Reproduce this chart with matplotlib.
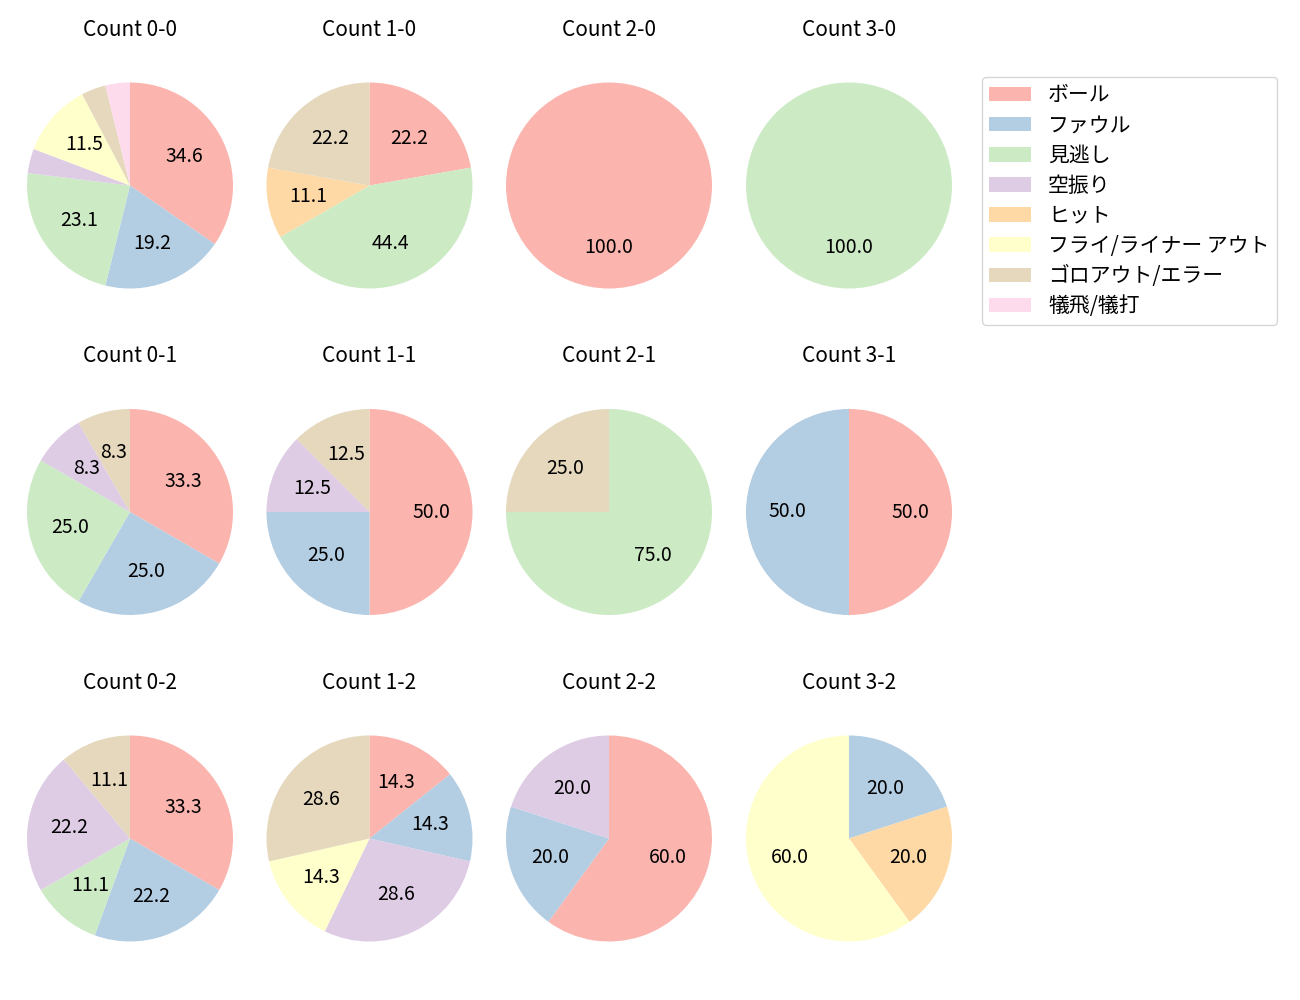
import matplotlib
matplotlib.use("Agg")
import matplotlib.pyplot as plt
from matplotlib.patches import Patch

plt.rcParams['font.family'] = ['Noto Sans CJK JP', 'DejaVu Sans']

categories = ["ボール", "ファウル", "見逃し", "空振り", "ヒット",
              "フライ/ライナー アウト", "ゴロアウト/エラー", "犠飛/犠打"]

counts = {
    "0-0": [9, 5, 6, 1, 0, 3, 1, 1],
    "1-0": [2, 0, 4, 0, 1, 0, 2, 0],
    "2-0": [1, 0, 0, 0, 0, 0, 0, 0],
    "3-0": [0, 0, 1, 0, 0, 0, 0, 0],
    "0-1": [4, 3, 3, 1, 0, 0, 1, 0],
    "1-1": [4, 2, 0, 1, 0, 0, 1, 0],
    "2-1": [0, 0, 3, 0, 0, 0, 1, 0],
    "3-1": [1, 1, 0, 0, 0, 0, 0, 0],
    "0-2": [3, 2, 1, 2, 0, 0, 1, 0],
    "1-2": [1, 1, 0, 2, 0, 1, 2, 0],
    "2-2": [3, 1, 0, 1, 0, 0, 0, 0],
    "3-2": [0, 1, 0, 0, 1, 3, 0, 0],
}
grid = [["0-0", "1-0", "2-0", "3-0"],
        ["0-1", "1-1", "2-1", "3-1"],
        ["0-2", "1-2", "2-2", "3-2"]]

colors = plt.get_cmap('Pastel1').colors[:8]

W, H = 1300, 1000
fig = plt.figure(figsize=(13, 10), dpi=100)
cxs = [130, 369.5, 609, 849]
cys = [185.5, 512, 838.5]
size = 2.5 * 103.0
for r in range(3):
    for c in range(4):
        ax = fig.add_axes([(cxs[c] - size / 2) / W, 1 - (cys[r] + size / 2) / H,
                           size / W, size / H])
        key = grid[r][c]
        vals = counts[key]
        idx = [i for i, v in enumerate(vals) if v > 0]
        v = [vals[i] for i in idx]
        cols = [colors[i] for i in idx]
        ax.pie(v, colors=cols, startangle=90, counterclock=False,
               autopct=lambda p: f"{p:.1f}" if p >= 5 else "",
               textprops={'fontsize': 14})
        ax.set_title(f"Count {key}", fontsize=15, pad=15)
        ax.set_aspect('equal')

handles = [Patch(facecolor=colors[i], label=categories[i]) for i in range(8)]
fig.legend(handles=handles, loc='upper left',
           bbox_to_anchor=(982 / W, 1 - 77 / H), borderaxespad=0,
           fontsize=15, labelspacing=0.39, handlelength=2.0, handletextpad=0.82,
           borderpad=0.35)
fig.savefig("out.png")
